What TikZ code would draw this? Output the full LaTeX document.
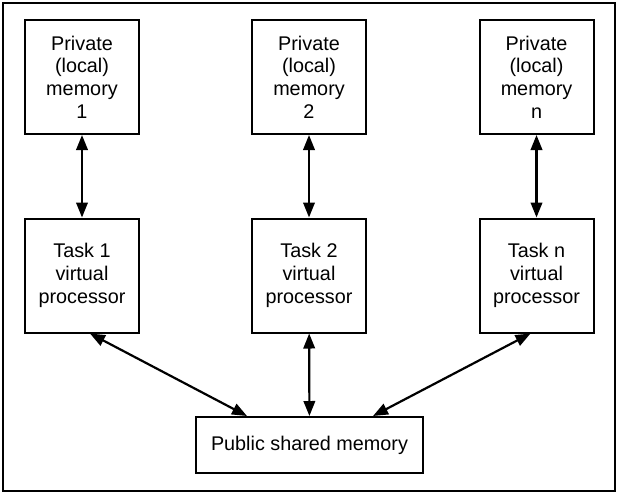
\documentclass[tikz,border=0pt]{standalone}
\usepackage{fontspec}
\setmainfont{Liberation Sans}
\usetikzlibrary{arrows.meta}
\begin{document}
\begin{tikzpicture}[x=1pt,y=-1pt,
  box/.style={draw,line width=2pt,minimum width=114pt,minimum height=114pt,inner sep=0pt,align=center,font=\fontsize{19.8}{22.7}\selectfont},
  conn/.style={line width=2.2pt,{Triangle[length=15pt,width=11.5pt]}-{Triangle[length=15pt,width=11.5pt]}}]
\useasboundingbox (0,0) rectangle (618,493);
\draw[line width=2pt] (3,3) rectangle (615,491);
\node[box] (m1) at (82,77) {Private\\(local)\\memory\\1};
\node[box] (m2) at (309,77) {Private\\(local)\\memory\\2};
\node[box] (mn) at (536.5,77) {Private\\(local)\\memory\\n};
\node[box] (t1) at (82,275.5) {Task 1\\virtual\\processor};
\node[box] (t2) at (309,275.5) {Task 2\\virtual\\processor};
\node[box] (tn) at (536.5,275.5) {Task n\\virtual\\processor};
\node[box,minimum width=227pt,minimum height=56pt] (pub) at (309.5,445) {Public shared memory};
\draw[conn] (m1) -- (t1);
\draw[conn] (m2) -- (t2);
\draw[conn] (mn) -- (tn);
\draw[conn] (pub) -- (t2);
\draw[conn] ([xshift=8pt]t1.south) -- ([xshift=-62.5pt]pub.north);
\draw[conn] ([xshift=-6pt]tn.south) -- ([xshift=63.5pt]pub.north);
\end{tikzpicture}
\end{document}
